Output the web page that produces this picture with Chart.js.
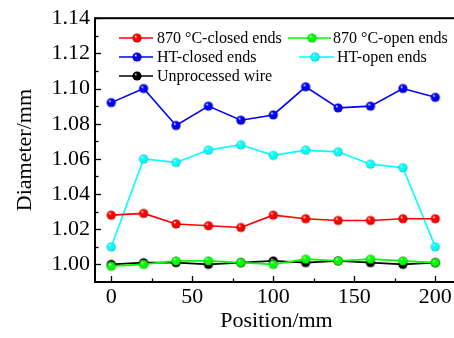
<!DOCTYPE html>
<html>
<head>
<meta charset="utf-8">
<script src="https://cdn.jsdelivr.net/npm/chart.js@4/dist/chart.umd.min.js"></script>
<style>
html,body{margin:0;padding:0;background:#fff;overflow:hidden;width:454px;height:338px;}
canvas{display:block;}
</style>
</head>
<body>
<canvas id="c" width="470" height="338"></canvas>
<script>
// ---- data ----
const positions = [0, 20, 40, 60, 80, 100, 120, 140, 160, 180, 200];
const seriesNames = ['870 \u00B0C-closed ends', '870 \u00B0C-open ends', 'HT-closed ends', 'HT-open ends', 'Unprocessed wire'];
const closed870 = [1.028, 1.029, 1.023, 1.022, 1.021, 1.028, 1.026, 1.025, 1.025, 1.026, 1.026];
const open870   = [0.999, 1.000, 1.002, 1.002, 1.001, 1.000, 1.003, 1.002, 1.003, 1.002, 1.001];
const htClosed  = [1.092, 1.100, 1.079, 1.090, 1.082, 1.085, 1.101, 1.089, 1.090, 1.100, 1.095];
const htOpen    = [1.010, 1.060, 1.058, 1.065, 1.068, 1.062, 1.065, 1.064, 1.057, 1.055, 1.010];
const unprocessed = [1.000, 1.001, 1.001, 1.000, 1.001, 1.002, 1.001, 1.002, 1.001, 1.000, 1.001];
const xTicks = [0, 50, 100, 150, 200];
const yTicks = [1.00, 1.02, 1.04, 1.06, 1.08, 1.10, 1.12, 1.14];

// ---- styling ----
const FONT = 'Liberation Serif, Times New Roman, serif';
const colors = ['#ff0000', '#00ff00', '#0000ff', '#00ffff', '#000000'];
const darks  = ['#a00000', '#00a000', '#00008c', '#00a8a8', '#000000'];
const highs  = ['#ffffff', '#ffffff', '#ffffff', '#ffffff', '#d0d0d0'];

function ball(color, dark, high, r) {
  const s = Math.ceil(2 * r + 2);
  const c = document.createElement('canvas');
  c.width = s; c.height = s;
  const g = c.getContext('2d');
  const cx = s / 2, cy = s / 2;
  const grad = g.createRadialGradient(cx - r * 0.35, cy - r * 0.4, r * 0.05, cx, cy, r);
  grad.addColorStop(0, high);
  grad.addColorStop(0.3, color);
  grad.addColorStop(0.8, color);
  grad.addColorStop(1, dark);
  g.fillStyle = grad;
  g.beginPath(); g.arc(cx, cy, r, 0, Math.PI * 2); g.fill();
  return c;
}
const balls = colors.map((c, i) => ball(c, darks[i], highs[i], 4.6));

const seriesValues = [closed870, open870, htClosed, htOpen, unprocessed];
const datasets = seriesValues.map((vals, i) => ({
  label: seriesNames[i],
  data: positions.map((p, j) => ({x: p, y: vals[j]})),
  borderColor: colors[i],
  backgroundColor: colors[i],
  borderWidth: 1.6,
  pointStyle: balls[i],
  pointRadius: 4.6,
  tension: 0
}));

const frameAndTicks = {
  id: 'frameAndTicks',
  beforeDatasetsDraw(chart) {
    const {ctx, chartArea: a, scales: {x, y}} = chart;
    ctx.save();
    ctx.strokeStyle = '#000';
    ctx.lineWidth = 1.3;
    // x ticks (inward)
    for (let v = 0; v <= 200; v += 25) {
      const px = Math.round(x.getPixelForValue(v)) + 0.5;
      const len = (v % 50 === 0) ? 6 : 3.5;
      ctx.beginPath(); ctx.moveTo(px, a.bottom); ctx.lineTo(px, a.bottom - len); ctx.stroke();
    }
    // y ticks (inward)
    for (let k = 0; k <= 14; k++) {
      const v = 1 + k * 0.01;
      const py = Math.round(y.getPixelForValue(v)) + 0.5;
      const len = (k % 2 === 0) ? 6 : 3.5;
      ctx.beginPath(); ctx.moveTo(a.left, py); ctx.lineTo(a.left + len, py); ctx.stroke();
    }
    ctx.lineWidth = 2;
    ctx.strokeRect(a.left, a.top, a.right - a.left, a.bottom - a.top);
    ctx.restore();
  }
};

const insideLegend = {
  id: 'insideLegend',
  afterDatasetsDraw(chart, args, opts) {
    const {ctx} = chart;
    ctx.save();
    ctx.font = '16px ' + FONT;
    ctx.textBaseline = 'middle';
    ctx.textAlign = 'left';
    opts.items.forEach(it => {
      const ds = chart.data.datasets[it.ds];
      ctx.strokeStyle = ds.borderColor;
      ctx.lineWidth = 1.4;
      ctx.beginPath(); ctx.moveTo(it.x1, it.y); ctx.lineTo(it.x2, it.y); ctx.stroke();
      const img = ds.pointStyle;
      ctx.drawImage(img, it.mx - img.width / 2, it.y - img.height / 2);
      ctx.fillStyle = '#000';
      ctx.fillText(ds.label, it.tx, it.y + 1);
    });
    ctx.restore();
  }
};

new Chart(document.getElementById('c'), {
  type: 'line',
  data: {datasets},
  plugins: [frameAndTicks, insideLegend],
  options: {
    responsive: false,
    animation: false,
    devicePixelRatio: 1,
    layout: {padding: {top: 18, right: 12, left: 0, bottom: 0}},
    plugins: {
      legend: {display: false},
      tooltip: {enabled: false},
      insideLegend: {
        items: [
          {ds: 0, x1: 119, x2: 153, mx: 137, y: 38, tx: 157},
          {ds: 1, x1: 288, x2: 331, mx: 312, y: 38, tx: 333},
          {ds: 2, x1: 119, x2: 153, mx: 137, y: 57, tx: 157},
          {ds: 3, x1: 299, x2: 334, mx: 315, y: 57, tx: 337},
          {ds: 4, x1: 119, x2: 153, mx: 137, y: 76, tx: 157}
        ]
      }
    },
    scales: {
      x: {
        type: 'linear',
        min: -10, max: 214,
        grid: {display: false, drawTicks: false},
        border: {display: false},
        afterBuildTicks: s => { s.ticks = xTicks.map(v => ({value: v})); },
        afterFit: s => { s.height = 56; },
        ticks: {color: '#000', font: {family: FONT, size: 22}, padding: 2, maxRotation: 0,
                callback: v => String(v)},
        title: {display: true, text: 'Position/mm', color: '#000',
                font: {family: FONT, size: 22}, padding: {top: 0, bottom: 4}}
      },
      y: {
        min: 0.99, max: 1.14,
        grid: {display: false, drawTicks: false},
        border: {display: false},
        afterBuildTicks: s => { s.ticks = yTicks.map(v => ({value: v})); },
        afterFit: s => { s.width = 95; },
        ticks: {color: '#000', font: {family: FONT, size: 22}, padding: 5,
                callback: v => Number(v).toFixed(2)},
        title: {display: true, text: 'Diameter/mm', color: '#000',
                font: {family: FONT, size: 22}, padding: {top: 12, bottom: 0}}
      }
    }
  }
});
</script>
</body>
</html>
